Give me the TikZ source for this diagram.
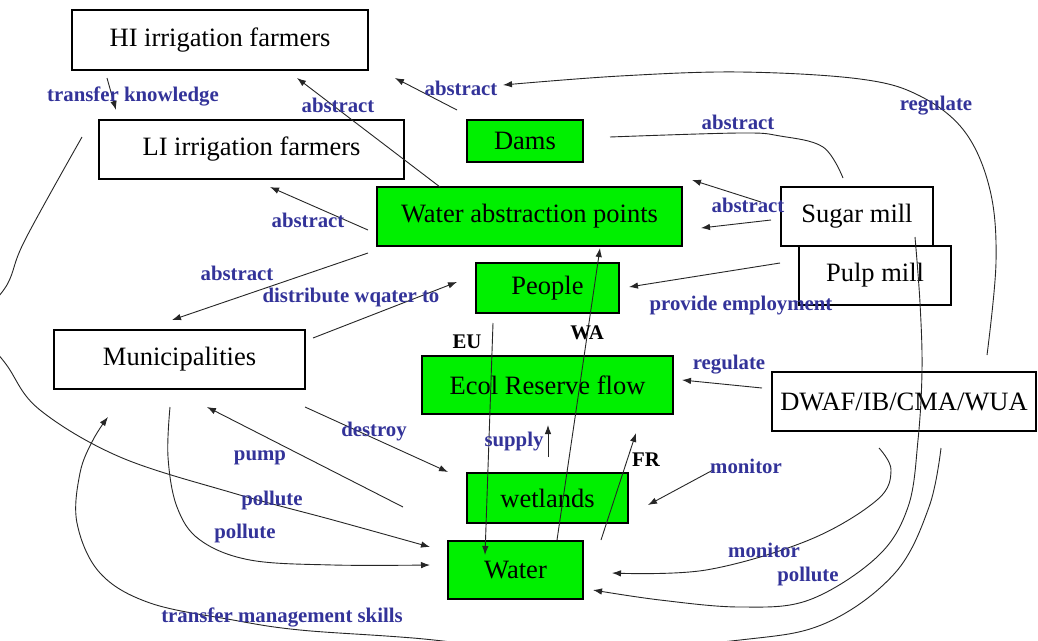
\documentclass[tikz,border=0pt]{standalone}
\usepackage{fontspec}
\setmainfont{Liberation Serif}
\usetikzlibrary{arrows.meta}
\definecolor{boxgreen}{RGB}{0,240,0}
\definecolor{lblblue}{RGB}{51,51,153}
\begin{document}
\begin{tikzpicture}[x=1pt,y=-1pt,
  box/.style={draw=black, line width=1.1pt, fill=white, inner sep=0pt,
              font=\fontsize{26.5}{30}\selectfont},
  gbox/.style={box, fill=boxgreen},
  lbl/.style={text=lblblue, inner sep=0pt, font=\fontsize{20.8}{24}\selectfont\bfseries},
  tag/.style={text=black, inner sep=0pt, font=\fontsize{20.8}{24}\selectfont\bfseries},
  link/.style={line width=0.9pt, draw=black!85},
  arr/.style={link, -{Latex[length=9pt,width=6.5pt]}},
]
\useasboundingbox (0,0) rectangle (1038,640);
\fill[white] (0,0) rectangle (1038,640);
\clip (0,0) rectangle (1038,640);

% actors and resources
\node[box,  minimum width=296pt, minimum height=60pt] (hi)     at (220,40)    {HI irrigation farmers};
\node[box,  minimum width=305pt, minimum height=59pt] (li)     at (251.5,149.5) {LI irrigation farmers};
\node[gbox, minimum width=116pt, minimum height=42pt] (dams)   at (525,141)   {Dams};
\node[gbox, minimum width=305pt, minimum height=59pt] (wap)    at (529.5,216.5) {Water abstraction points};
\node[box,  minimum width=152pt, minimum height=59pt] (sugar)  at (857,216.5) {Sugar mill};
\node[box,  minimum width=152pt, minimum height=59pt] (pulp)   at (875,275.5) {Pulp mill};
\node[gbox, minimum width=143pt, minimum height=50pt] (people) at (547.5,288)  {People};
\node[box,  minimum width=251pt, minimum height=59pt] (muni)   at (179.5,359.5) {Municipalities};
\node[gbox, minimum width=251pt, minimum height=58pt] (ecol)   at (547.5,385) {Ecol Reserve flow};
\node[box,  minimum width=264pt, minimum height=59pt] (dwaf)   at (904,401.5) {DWAF/IB/CMA/WUA};
\node[gbox, minimum width=161pt, minimum height=50pt] (wet)    at (547.5,498) {wetlands};
\node[gbox, minimum width=135pt, minimum height=58pt] (water)  at (515.5,570) {Water};

% connector end points
\coordinate (hi-o)    at (107,78);   \coordinate (li-i)    at (116,110);
\coordinate (dams-o)  at (457,110);  \coordinate (hi-i1)   at (395,78);
\coordinate (wap-o1)  at (440,187);  \coordinate (hi-i2)   at (297,78);
\coordinate (wap-o2)  at (368,230);  \coordinate (li-i2)   at (270,187);
\coordinate (dwaf-o1) at (987,355);  \coordinate (abs-i)   at (503,85);
\coordinate (sug-o1)  at (843,178);  \coordinate (dams-i)  at (610,137);
\coordinate (sug-o2)  at (761,202);  \coordinate (wap-i1)  at (692,180);
\coordinate (sug-o3)  at (771,220);  \coordinate (wap-i2)  at (701,228);
\coordinate (wap-o3)  at (368,253);  \coordinate (muni-i1) at (172,320);
\coordinate (muni-o1) at (313,338);  \coordinate (peo-i1)  at (457,282);
\coordinate (pulp-o)  at (780,263);  \coordinate (peo-i2)  at (629,287);
\coordinate (peo-o)   at (493,323);  \coordinate (wat-i1)  at (485,555);
\coordinate (wat-o1)  at (557,540);  \coordinate (wap-i3)  at (600,248);
\coordinate (dwaf-o2) at (762,388);  \coordinate (eco-i1)  at (682,380);
\coordinate (wet-o)   at (548,457);  \coordinate (eco-i2)  at (548,425);
\coordinate (wat-o2)  at (601,540);  \coordinate (eco-i3)  at (636,433);
\coordinate (mon-o)   at (713,470);  \coordinate (wet-i1)  at (648,505);
\coordinate (muni-o2) at (305,407);  \coordinate (wet-i2)  at (448,472);
\coordinate (wat-o3)  at (403,507);  \coordinate (muni-i2) at (207,407);
\coordinate (muni-o3) at (170,407);  \coordinate (wat-i2)  at (430,565);
\coordinate (li-o)    at (82,137);   \coordinate (wat-i3)  at (430,547);
\coordinate (dwaf-o3) at (879,448);  \coordinate (wat-i4)  at (612,573);
\coordinate (sug-o4)  at (915,237);  \coordinate (wat-i5)  at (593,590);
\coordinate (dwaf-o4) at (941,448);  \coordinate (muni-i3) at (108,417);

% straight relations
\draw[arr] (hi-o) -- (li-i);
\draw[arr] (dams-o) -- (hi-i1);
\draw[arr] (wap-o1) -- (hi-i2);
\draw[arr] (wap-o2) -- (li-i2);
\draw[arr] (sug-o2) -- (wap-i1);
\draw[arr] (sug-o3) -- (wap-i2);
\draw[arr] (wap-o3) -- (muni-i1);
\draw[arr] (muni-o1) -- (peo-i1);
\draw[arr] (pulp-o) -- (peo-i2);
\draw[arr] (peo-o) -- (wat-i1);
\draw[arr] (wat-o1) -- (wap-i3);
\draw[arr] (dwaf-o2) -- (eco-i1);
\draw[arr] (wet-o) -- (eco-i2);
\draw[arr] (wat-o2) -- (eco-i3);
\draw[arr] (mon-o) -- (wet-i1);
\draw[arr] (muni-o2) -- (wet-i2);
\draw[arr] (wat-o3) -- (muni-i2);

% curved relations
\draw[arr] plot[smooth, tension=0.6] coordinates
  {(dwaf-o1) (996,262) (990,190) (965,132) (920,96) (860,79) (740,72) (620,76) (abs-i)};
\draw[link] plot[smooth, tension=0.6] coordinates
  {(sug-o1) (823,147) (780,136) (740,133) (dams-i)};
\draw[arr] plot[smooth, tension=0.6] coordinates
  {(muni-o3) (168,457) (177,507) (200,540) (250,560) (333,565) (wat-i2)};
\draw[arr] plot[smooth, tension=0.6] coordinates
  {(li-o) (25,240) (8,283) (-18,325) (8,367) (40,410) (120,457) (233,493) (333,520) (wat-i3)};
\draw[arr] plot[smooth, tension=0.6] coordinates
  {(dwaf-o3) (891,470) (877,500) (809,540) (706,570) (wat-i4)};
\draw[arr] plot[smooth, tension=0.6] coordinates
  {(sug-o4) (920,303) (922,370) (918,440) (908,507) (877,557) (809,600) (740,607) (660,600) (wat-i5)};
\draw[arr] plot[smooth, tension=0.6] coordinates
  {(dwaf-o4) (929,507) (895,573) (826,623) (740,640) (570,652) (413,638) (300,630) (233,620)
   (150,603) (100,573) (77,523) (80,473) (93,440) (muni-i3)};

% relation labels
\node[lbl] (l1)  at (133,96)  {transfer knowledge};
\node[lbl] (l2)  at (461,88)  {abstract};
\node[lbl] (l3)  at (338,105) {abstract};
\node[lbl] (l4)  at (308,220) {abstract};
\node[lbl] (l5)  at (738,122) {abstract};
\node[lbl] (l6)  at (936,106) {regulate};
\node[lbl] (l7)  at (748,205) {abstract};
\node[lbl] (l8)  at (237,273) {abstract};
\node[lbl] (l9)  at (351,297) {distribute wqater to};
\node[lbl] (l10) at (741,306) {provide employment};
\node[lbl] (l11) at (729,365) {regulate};
\node[lbl] (l12) at (514,442) {supply};
\node[lbl] (l13) at (374,432) {destroy};
\node[lbl] (l14) at (746,466) {monitor};
\node[lbl] (l15) at (260,458) {pump};
\node[lbl] (l16) at (272,500) {pollute};
\node[lbl] (l17) at (245,533) {pollute};
\node[lbl] (l18) at (764,550) {monitor};
\node[lbl] (l19) at (808,576) {pollute};
\node[lbl] (l20) at (282,617) {transfer management skills};
\node[tag] (t1)  at (467,342) {EU};
\node[tag] (t2)  at (587,333) {WA};
\node[tag] (t3)  at (646,460) {FR};
\end{tikzpicture}
\end{document}
